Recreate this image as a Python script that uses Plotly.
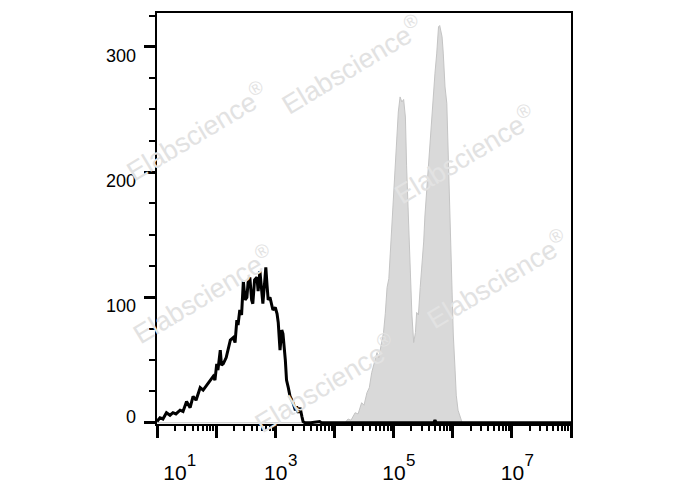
import plotly.graph_objects as go

# ---- data (log10 fluorescence channel, event count) ----
black_log = [1.00, 1.05, 1.10, 1.16, 1.22, 1.27, 1.32, 1.39, 1.44, 1.50, 1.56, 1.61, 1.66, 1.73,
             1.78, 1.84, 1.90, 1.95, 1.98, 2.01, 2.03, 2.07, 2.09, 2.12, 2.17, 2.24, 2.29, 2.32,
             2.35, 2.37, 2.40, 2.43, 2.46, 2.49, 2.52, 2.54, 2.57, 2.60, 2.62, 2.65, 2.69, 2.71,
             2.74, 2.77, 2.79, 2.82, 2.84, 2.86, 2.88, 2.91, 2.94, 2.96, 3.00, 3.03, 3.05, 3.08,
             3.11, 3.13, 3.17, 3.19, 3.22, 3.25, 3.28, 3.30, 3.34, 3.36, 3.39, 3.42, 3.45, 3.47,
             3.50, 3.60, 3.75, 3.78, 3.82, 5.68, 5.70, 5.72, 8.00]
black_counts = [1, 4, 3, 8, 6, 8, 7, 10, 9, 17, 12, 21, 18, 28,
                26, 30, 33, 37, 34, 47, 42, 58, 46, 47, 52, 66, 68, 64,
                82, 78, 90, 86, 113, 98, 100, 112, 116, 98, 95, 114, 116, 105,
                121, 108, 95, 112, 124, 110, 98, 100, 94, 90, 92, 87, 80, 58,
                74, 71, 50, 34, 28, 21, 18, 16, 10, 13, 8, 12, 5, 1,
                0, 0, 1, 0, 0, 0, 2, 0, 0]

gray_log = [1.00, 4.18, 4.23, 4.28, 4.35, 4.40, 4.46, 4.50, 4.55, 4.59, 4.63, 4.67, 4.72, 4.75,
            4.80, 4.83, 4.86, 4.89, 4.92, 4.94, 4.97, 5.00, 5.02, 5.04, 5.06, 5.08, 5.11,
            5.14, 5.17, 5.20, 5.22, 5.25, 5.28, 5.31, 5.34, 5.37, 5.39, 5.42, 5.45, 5.48,
            5.51, 5.53, 5.56, 5.59, 5.62, 5.65, 5.68, 5.70, 5.73, 5.76, 5.78, 5.80, 5.82,
            5.84, 5.87, 5.90, 5.93, 5.96, 5.99, 6.01, 6.04, 6.06, 6.09, 6.13, 6.16, 8.00]
gray_counts = [0, 0, 3, 2, 8, 7, 16, 14, 24, 28, 40, 48, 56, 52,
               63, 72, 87, 108, 115, 132, 150, 179, 201, 212, 232, 248, 260,
               256, 258, 244, 205, 165, 120, 86, 64, 72, 88, 86, 108, 125,
               145, 165, 185, 205, 228, 250, 265, 279, 295, 316, 317, 313, 308,
               295, 268, 255, 200, 150, 100, 70, 42, 22, 10, 3, 0, 0]

x_decades = [1, 2, 3, 4, 5, 6, 7, 8]
x_label_exponents = ["1", "3", "5", "7"]
x_label_base_pos_log = [1.305, 3.008, 5.005, 7.01]
x_label_exp_pos_log = [1.584, 3.293, 5.29, 7.295]
y_major = [0, 100, 200, 300]
y_minor = [25, 50, 75, 125, 150, 175, 225, 250, 275, 325]
y_label_text = ["0", "100", "200", "300"]
y_label_pos = [5, 93.5, 193, 293]
watermark = "Elabscience<sup>®</sup>"
watermark_pos = [(0.472, 0.875), (0.744, 0.656), (0.097, 0.712),
                 (0.821, 0.354), (0.111, 0.317), (0.405, 0.100)]

FONT = "Arial, Liberation Sans, sans-serif"

fig = go.Figure()
fig.add_trace(go.Scatter(
    x=[10 ** v for v in gray_log], y=gray_counts, mode="lines",
    fill="tozeroy", fillcolor="rgb(217,217,217)",
    line=dict(color="rgb(196,196,196)", width=1), hoverinfo="skip", showlegend=False))
fig.add_trace(go.Scatter(
    x=[10 ** v for v in black_log], y=black_counts, mode="lines",
    line=dict(color="black", width=3), hoverinfo="skip", showlegend=False))
# invisible carriers so the label-only axes get drawn
for xa, ya in (("x2", "y"), ("x3", "y"), ("x", "y2")):
    fig.add_trace(go.Scatter(x=[10 ** black_log[0]], y=[black_counts[0]], xaxis=xa, yaxis=ya,
                             mode="markers", marker=dict(opacity=0), hoverinfo="skip",
                             showlegend=False))

minor_x = [m * 10 ** k for k in range(1, 8) for m in range(2, 10)]

label_axis = dict(type="log", range=[1, 8], overlaying="x", anchor="y", side="bottom",
                  showgrid=False, zeroline=False, showline=False, ticks="")

fig.update_layout(
    width=688, height=490,
    margin=dict(l=149, r=125, t=3, b=74),
    paper_bgcolor="white", plot_bgcolor="white",
    font=dict(family=FONT, color="black"),
    xaxis=dict(
        type="log", range=[1, 8], showgrid=False, zeroline=False,
        showline=True, linecolor="black", linewidth=2, mirror=True,
        ticks="outside", tickvals=[10 ** d for d in x_decades], ticklen=12, tickwidth=3,
        tickcolor="black", showticklabels=False,
        minor=dict(ticks="outside", tickvals=minor_x, ticklen=5, tickwidth=1.5,
                   tickcolor="black", showgrid=False),
    ),
    xaxis2=dict(label_axis,
                tickvals=[10 ** v for v in x_label_base_pos_log],
                ticktext=["10"] * len(x_label_base_pos_log),
                tickfont=dict(size=21, family=FONT, color="black"),
                ticklabelstandoff=34),
    xaxis3=dict(label_axis,
                tickvals=[10 ** v for v in x_label_exp_pos_log],
                ticktext=x_label_exponents,
                tickfont=dict(size=17, family=FONT, color="black"),
                ticklabelstandoff=24),
    yaxis=dict(
        range=[-1, 327], showgrid=False, zeroline=False,
        showline=True, linecolor="black", linewidth=2, mirror=True,
        ticks="outside", tickvals=y_major, ticklen=11, tickwidth=3, tickcolor="black",
        showticklabels=False,
        minor=dict(ticks="outside", tickvals=y_minor, ticklen=6, tickwidth=1.5,
                   tickcolor="black", showgrid=False),
    ),
    yaxis2=dict(
        range=[-1, 327], overlaying="y", anchor="x", side="left",
        showgrid=False, zeroline=False, showline=False, ticks="",
        tickvals=y_label_pos, ticktext=y_label_text,
        tickfont=dict(size=18, family=FONT, color="black"),
        ticklabelstandoff=20,
    ),
)

for (px, py) in watermark_pos:
    fig.add_annotation(
        x=px, y=py, xref="paper", yref="paper", text=watermark, showarrow=False,
        textangle=-31, font=dict(size=27, family=FONT, color="rgb(226,226,226)"),
        xanchor="center", yanchor="middle")

fig.write_html("out.html")
